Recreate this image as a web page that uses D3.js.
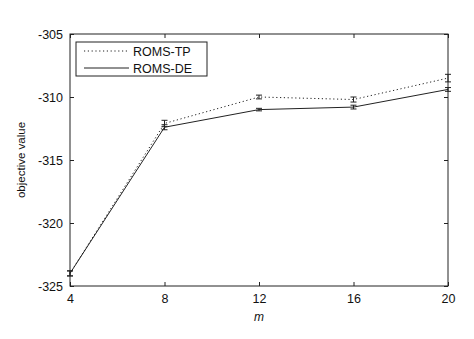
<!DOCTYPE html>
<html>
<head>
<meta charset="utf-8">
<script src="https://cdn.jsdelivr.net/npm/d3@7"></script>
<style>
  body { margin: 0; background: #fff; }
  svg text { font-family: Arial, "Liberation Sans", sans-serif; fill: #111; }
</style>
</head>
<body>
<svg id="chart"></svg>
<script>
// Chart values
const mValues = [4, 8, 12, 16, 20];
const tpMean = [-324.0, -312.1, -310.0, -310.2, -308.5];
const tpErr = [0.2, 0.25, 0.15, 0.2, 0.3];
const deMean = [-324.0, -312.4, -311.0, -310.8, -309.4];
const deErr = [0.2, 0.2, 0.1, 0.15, 0.15];
const xTicks = [4, 8, 12, 16, 20];
const yTicks = [-325, -320, -315, -310, -305];
const seriesNames = ["ROMS-TP", "ROMS-DE"];

const width = 474;
const height = 339;
const margin = {top: 34, right: 26, bottom: 53, left: 70};

const svg = d3.select("#chart")
    .attr("width", width)
    .attr("height", height);

const x = d3.scaleLinear().domain([4, 20]).range([margin.left, width - margin.right]);
const y = d3.scaleLinear().domain([-325, -305]).range([height - margin.bottom, margin.top]);

const series = [
    {name: seriesNames[0], mean: tpMean, err: tpErr, dash: "1.2,2.6"},
    {name: seriesNames[1], mean: deMean, err: deErr, dash: null}
];

const line = d3.line().x(d => x(d[0])).y(d => y(d[1]));

// Lines and error bars
series.forEach(s => {
    const pts = mValues.map((m, i) => [m, s.mean[i]]);
    svg.append("path")
        .attr("d", line(pts))
        .attr("fill", "none")
        .attr("stroke", "#222")
        .attr("stroke-width", 1)
        .attr("stroke-dasharray", s.dash);

    const g = svg.append("g").attr("stroke", "#222").attr("stroke-width", 1);
    mValues.forEach((m, i) => {
        const cx = x(m);
        const y0 = y(s.mean[i] - s.err[i]);
        const y1 = y(s.mean[i] + s.err[i]);
        g.append("line").attr("x1", cx).attr("x2", cx).attr("y1", y0).attr("y2", y1);
        g.append("line").attr("x1", cx - 3).attr("x2", cx + 3).attr("y1", y0).attr("y2", y0);
        g.append("line").attr("x1", cx - 3).attr("x2", cx + 3).attr("y1", y1).attr("y2", y1);
    });
});

// Axes (MATLAB style, ticks inside on all four sides, plain hyphen minus)
const tickLen = 4;
const plain = d => String(d);
const bottomAxis = d3.axisBottom(x).tickValues(xTicks).tickSize(-tickLen).tickPadding(8).tickFormat(plain);
const topAxis = d3.axisTop(x).tickValues(xTicks).tickSize(-tickLen).tickFormat("");
const leftAxis = d3.axisLeft(y).tickValues(yTicks).tickSize(-tickLen).tickPadding(7).tickFormat(plain);
const rightAxis = d3.axisRight(y).tickValues(yTicks).tickSize(-tickLen).tickFormat("");

function styleAxis(g) {
    g.select(".domain").remove();
    g.selectAll("line").attr("stroke", "#222");
    g.selectAll("text").attr("font-size", 12.5).attr("fill", "#111");
}

svg.append("g").attr("transform", `translate(0,${height - margin.bottom})`).call(bottomAxis).call(styleAxis);
svg.append("g").attr("transform", `translate(0,${margin.top})`).call(topAxis).call(styleAxis);
svg.append("g").attr("transform", `translate(${margin.left},0)`).call(leftAxis).call(styleAxis);
svg.append("g").attr("transform", `translate(${width - margin.right},0)`).call(rightAxis).call(styleAxis);

// Frame
svg.append("rect")
    .attr("x", margin.left)
    .attr("y", margin.top)
    .attr("width", width - margin.left - margin.right)
    .attr("height", height - margin.top - margin.bottom)
    .attr("fill", "none")
    .attr("stroke", "#222")
    .attr("stroke-width", 1);

// Axis labels
svg.append("text")
    .attr("x", x(12))
    .attr("y", 321)
    .attr("text-anchor", "middle")
    .attr("font-size", 12)
    .attr("font-style", "italic")
    .text("m");

svg.append("text")
    .attr("transform", `translate(25,${(margin.top + height - margin.bottom) / 2}) rotate(-90)`)
    .attr("text-anchor", "middle")
    .attr("font-size", 11.5)
    .text("objective value");

// Legend
const legend = svg.append("g").attr("transform", "translate(76,42)");
legend.append("rect")
    .attr("width", 131)
    .attr("height", 34)
    .attr("fill", "#fff")
    .attr("stroke", "#222")
    .attr("stroke-width", 1);
series.forEach((s, i) => {
    const ly = 9 + i * 17;
    legend.append("line")
        .attr("x1", 8).attr("x2", 53)
        .attr("y1", ly).attr("y2", ly)
        .attr("stroke", "#222")
        .attr("stroke-width", 1)
        .attr("stroke-dasharray", s.dash);
    legend.append("text")
        .attr("x", 57)
        .attr("y", ly + 4.5)
        .attr("font-size", 12.5)
        .text(s.name);
});
</script>
</body>
</html>
